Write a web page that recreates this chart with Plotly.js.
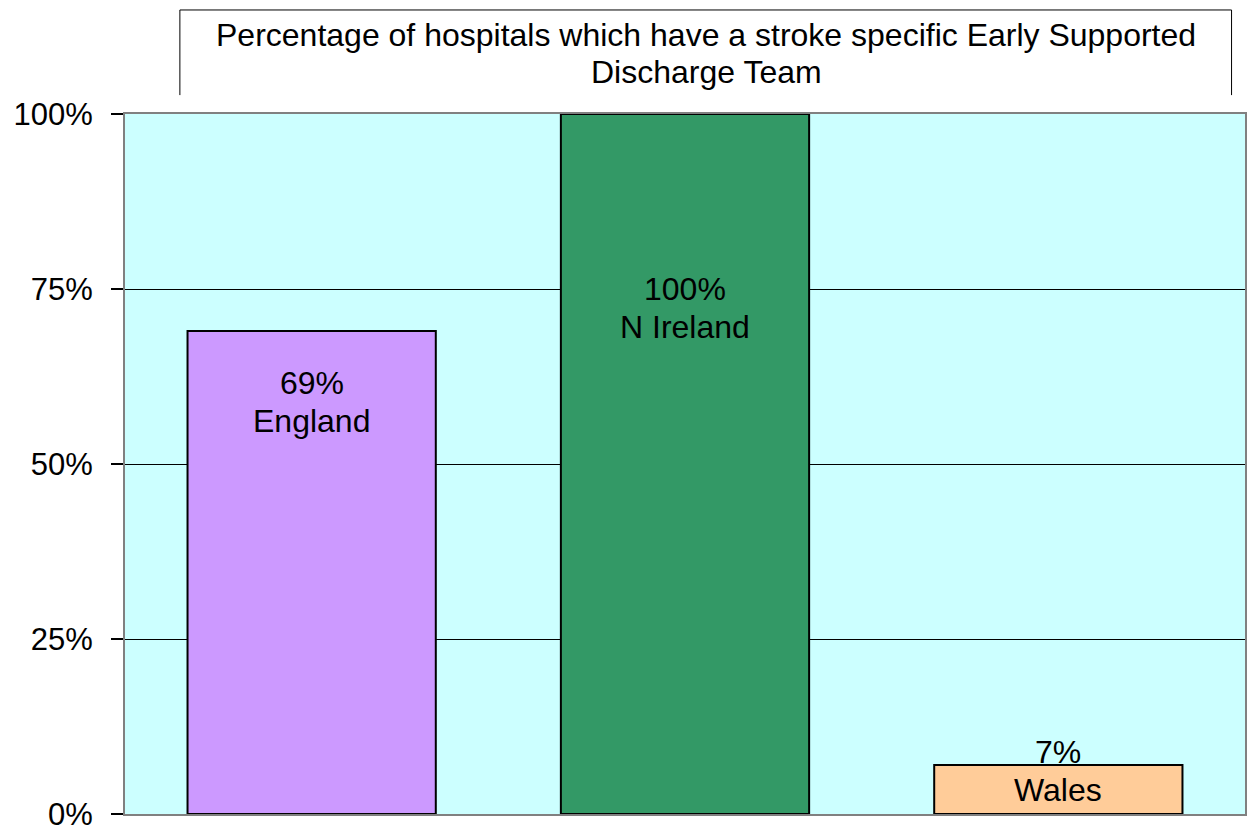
<!DOCTYPE html>
<html>
<head>
<meta charset="utf-8">
<script src="https://cdn.plot.ly/plotly-3.0.1.min.js"></script>
<style>
  body { margin: 0; background: #fff; }
  #chart { width: 1248px; height: 827px; }
</style>
</head>
<body>
<div id="chart"></div>
<script>
// values
let countries = ['England', 'N Ireland', 'Wales'];
let pctWithTeam = [69, 100, 7];
let barColours = ['#CC99FF', '#339966', '#FFCC99'];
let labelShift = [-52, -175, 13];
let titleLines = ['Percentage of hospitals which have a stroke specific Early Supported', 'Discharge Team'];

let font = 'Arial, "Liberation Sans", sans-serif';
let lineGap = 38;

let bars = {
  x: countries,
  y: pctWithTeam,
  type: 'bar',
  marker: {
    color: barColours,
    line: { color: '#000', width: 2 }
  },
  hoverinfo: 'none'
};

// two lines per bar (value, name), placed separately to keep the tight line spacing
let labels = [];
countries.forEach(function(c, i){
  [pctWithTeam[i] + '%', c].forEach(function(t, k){
    labels.push({
      x: c, y: pctWithTeam[i],
      xref: 'x', yref: 'y',
      text: t,
      showarrow: false,
      yanchor: 'middle',
      yshift: labelShift[i] - k * lineGap,
      font: { family: font, size: 32, color: '#000' }
    });
  });
});

// chart title sits in a box above the plot
titleLines.forEach(function(t, k){
  labels.push({
    x: 0.519, y: 1.1129 - k * 0.053, xref: 'paper', yref: 'paper',
    xanchor: 'center', yanchor: 'middle',
    text: t,
    showarrow: false,
    font: { family: font, size: 32, color: '#000' }
  });
});

let layout = {
  width: 1248,
  height: 827,
  margin: { l: 125, r: 3, t: 114, b: 13 },
  paper_bgcolor: '#fff',
  plot_bgcolor: '#CCFFFF',
  showlegend: false,
  bargap: 0.335,
  font: { family: font, size: 30, color: '#000' },
  xaxis: {
    showticklabels: false,
    ticks: '',
    showgrid: false,
    showline: true, linecolor: '#808080', linewidth: 2, mirror: true,
    zeroline: false,
    fixedrange: true
  },
  yaxis: {
    range: [0, 100],
    tickvals: [0, 25, 50, 75, 100],
    ticktext: ['0%', '25%', '50%', '75%', '100%'],
    ticks: 'outside', ticklen: 12, tickwidth: 2, tickcolor: '#000',
    ticklabelstandoff: 12,
    ticklabeloverflow: 'allow',
    showgrid: true, gridcolor: '#000', gridwidth: 1,
    showline: true, linecolor: '#808080', linewidth: 2, mirror: true,
    zeroline: false,
    tickfont: { family: font, size: 31, color: '#000' },
    fixedrange: true
  },
  annotations: labels,
  shapes: [{
    type: 'path', xref: 'paper', yref: 'paper',
    path: 'M 0.049 1.027 L 0.049 1.1486 L 0.988 1.1486 L 0.988 1.027',
    line: { color: '#000', width: 1 }
  }]
};

Plotly.newPlot(document.getElementById('chart'), [bars], layout, { displayModeBar: false, staticPlot: true });
</script>
</body>
</html>
